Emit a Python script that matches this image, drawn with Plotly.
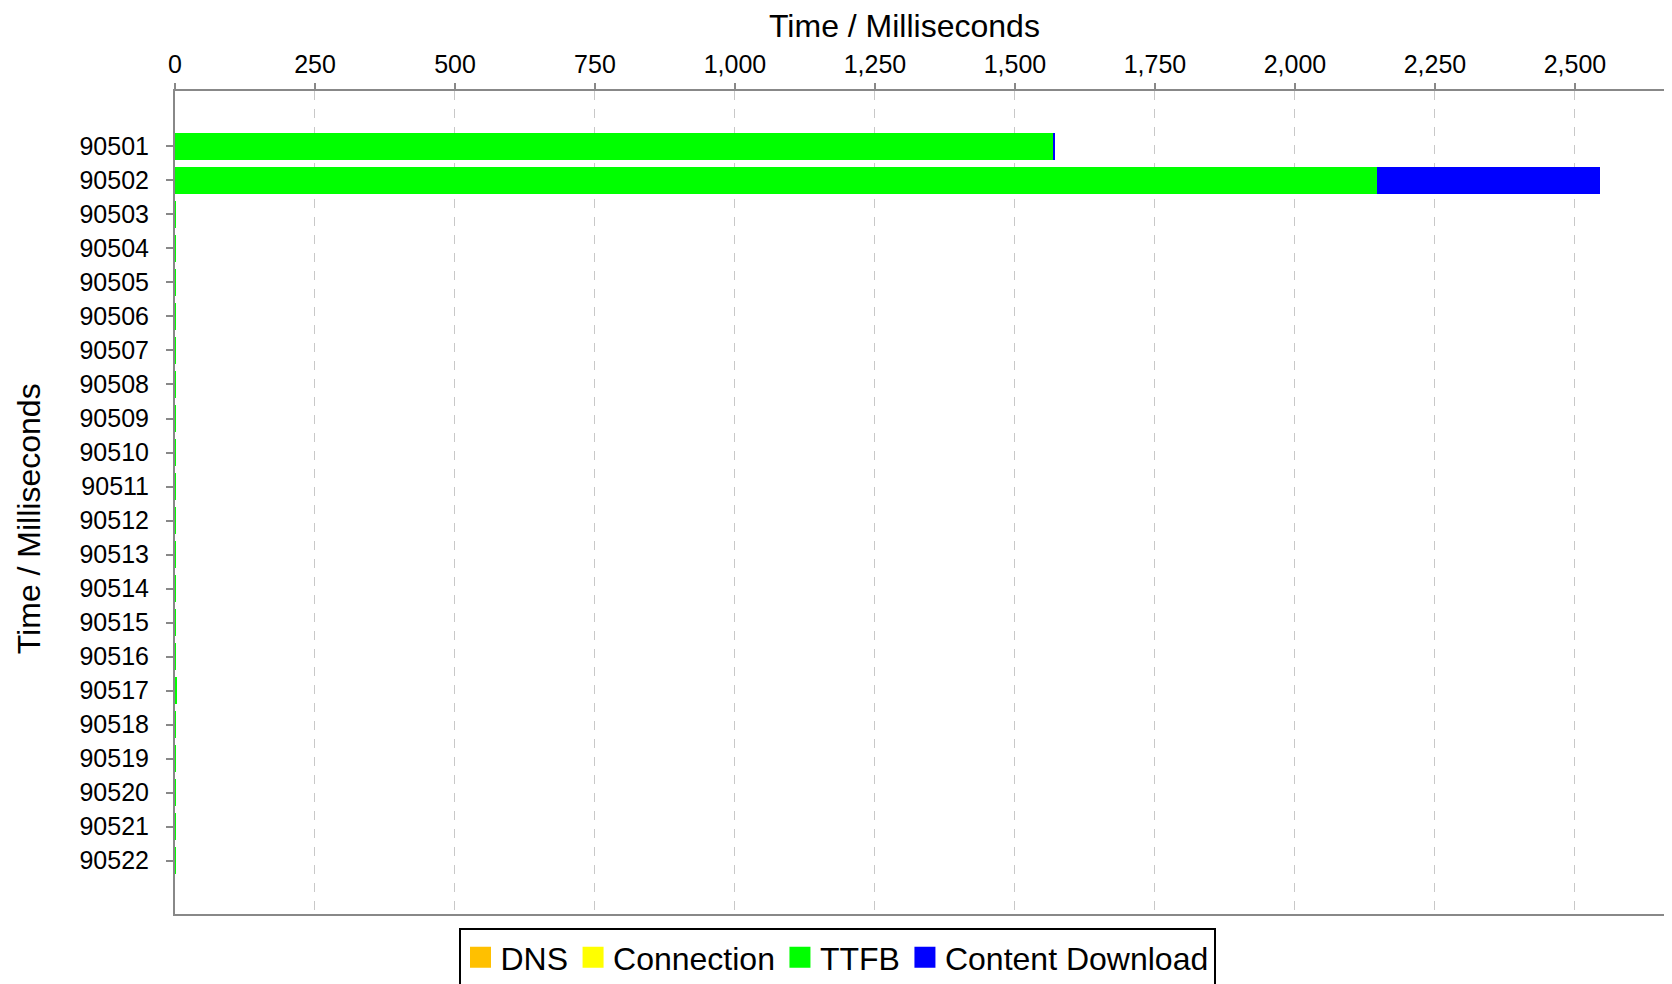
import plotly.graph_objects as go

# ── data ──────────────────────────────────────────────────────────────────────
requests = [str(n) for n in range(90501, 90523)]

dns        = [0] * 22
connection = [0] * 22
ttfb       = [1569, 2146, 1, 1, 1, 1, 1, 1, 1, 1, 1, 1, 1, 1, 1, 1, 4, 1, 1, 1, 1, 1]
download   = [2, 398, 0, 0, 0, 0, 0, 0, 0, 0, 0, 0, 0, 0, 0, 0, 0, 0, 0, 0, 0, 0]

x_ticks = [0, 250, 500, 750, 1000, 1250, 1500, 1750, 2000, 2250, 2500]

# ── style ─────────────────────────────────────────────────────────────────────
FONT   = "Liberation Sans, Arial, sans-serif"
AXIS   = "#888888"
GRID   = "#c8c8c8"
SERIES = [
    ("DNS", dns, "#FFC000"),
    ("Connection", connection, "#FFFF00"),
    ("TTFB", ttfb, "#00FF00"),
    ("Content Download", download, "#0000FF"),
]

fig = go.Figure()
for name, vals, color in SERIES:
    fig.add_trace(go.Bar(
        name=name, y=requests, x=vals, orientation="h",
        marker=dict(color=color, line=dict(width=0)),
        showlegend=False,
    ))
# legend-only markers so the swatches are big squares like the original
for name, vals, color in SERIES:
    fig.add_trace(go.Scatter(
        name=name, x=[None], y=[None], mode="markers",
        marker=dict(symbol="square", size=16, color=color,
                    line=dict(color=color, width=5)),
        hoverinfo="skip",
    ))

# page body adds an 8px offset, so margins are set relative to that
fig.update_layout(
    width=1664, height=984,
    barmode="stack", bargap=0.22,
    paper_bgcolor="white", plot_bgcolor="white",
    font=dict(family=FONT, color="black", size=25),
    margin=dict(l=167, r=3, t=83, b=78, autoexpand=False),
    showlegend=True,
    legend=dict(
        orientation="h", xref="container", yref="container",
        x=829 / 1664, xanchor="center", y=1 - 920 / 984, yanchor="top",
        bordercolor="black", borderwidth=2, bgcolor="white",
        font=dict(size=32, family=FONT), traceorder="normal",
        itemsizing="trace", itemwidth=30,
    ),
    annotations=[
        dict(text="Time / Milliseconds", xref="paper", yref="paper",
             x=0.4886, y=1.0785, xanchor="center", yanchor="middle",
             showarrow=False, font=dict(size=32)),
        dict(text="Time / Milliseconds", xref="paper", yref="paper",
             x=-0.0977, y=0.4797, xanchor="center", yanchor="middle",
             textangle=-90, showarrow=False, font=dict(size=32)),
    ],
)

fig.update_xaxes(
    side="top", range=[0, 2668], automargin=False,
    tickmode="array", tickvals=x_ticks, tickformat=",d",
    tickfont=dict(size=25),
    showgrid=True, gridcolor=GRID, griddash="dash", gridwidth=1,
    showline=True, linecolor=AXIS, linewidth=2, mirror=True,
    ticks="outside", ticklen=6, tickcolor=AXIS, tickwidth=2,
    zeroline=False,
)

fig.update_yaxes(
    type="category", range=[22.57, -1.63], automargin=False,
    tickfont=dict(size=25), ticklabelstandoff=12,
    showgrid=False,
    showline=True, linecolor=AXIS, linewidth=2, mirror=True,
    ticks="outside", ticklen=7, tickcolor=AXIS, tickwidth=2,
    zeroline=False,
)

fig.write_html("out.html")
